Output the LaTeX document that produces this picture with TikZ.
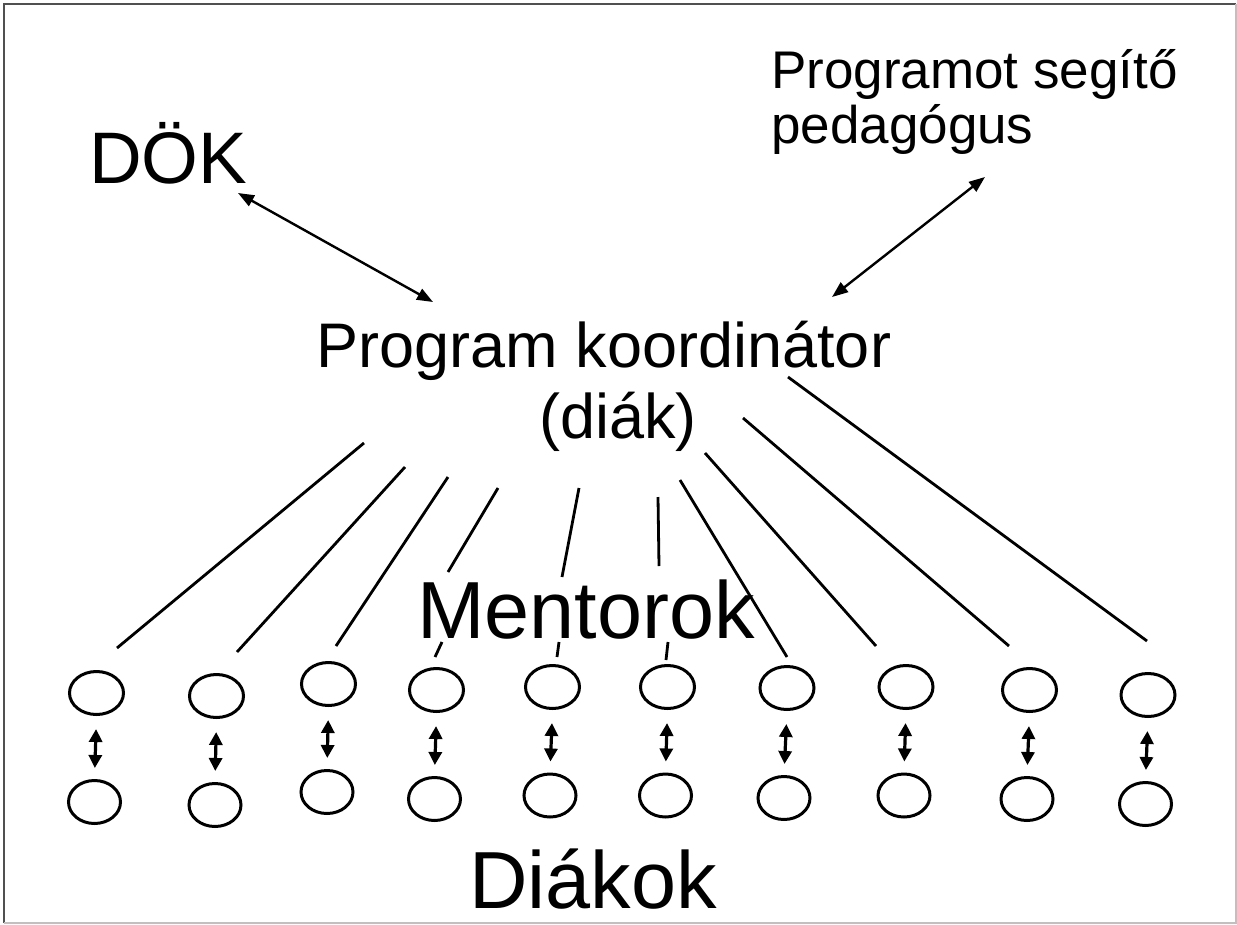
\documentclass[tikz,border=0pt]{standalone}
\usepackage{fontspec}
\setmainfont{Liberation Sans}
\usetikzlibrary{arrows.meta,shapes.geometric}
\definecolor{framedark}{HTML}{505050}
\definecolor{framelight}{HTML}{C0C0C0}
\begin{document}
\begin{tikzpicture}[x=1pt,y=-1pt,
  lbl/.style={inner sep=0pt},
  elltop/.style={draw, ellipse, line width=3pt, minimum width=54pt, minimum height=43pt, inner sep=0pt},
  ellbot/.style={draw, ellipse, line width=3pt, minimum width=52pt, minimum height=43pt, inner sep=0pt},
  conn/.style={line width=2.8pt},
  link/.style={line width=2.4pt, {Triangle[length=16pt,width=12pt]}-{Triangle[length=16pt,width=12pt]}},
  pair/.style={line width=3.2pt, {Triangle[length=13pt,width=13pt]}-{Triangle[length=13pt,width=13pt]}, shorten <=13pt, shorten >=11pt}]
\useasboundingbox (0,0) rectangle (1237,924);
\fill[white] (0,0) rectangle (1237,924);
% frame
\draw[framedark, line width=2pt] (4,923) -- (4,4) -- (1236,4);
\draw[framelight, line width=2pt] (4,923) -- (1236,923) -- (1236,4);

% texts
\node[lbl, font=\fontsize{73}{88}\selectfont, anchor=base west] (dok) at (89,183) {DÖK};
\node[lbl, font=\fontsize{53}{55}\selectfont, anchor=base west, align=left] (ped) at (771,143) {Programot segítő\\pedagógus};
\node[lbl, font=\fontsize{63}{71}\selectfont, anchor=base, align=center] (coord) at (604,438) {Program koordinátor\\\hspace*{28pt}(diák)};
\node[lbl, font=\fontsize{81}{97}\selectfont, anchor=base west] (ment) at (417,638) {Mentorok};
\node[lbl, font=\fontsize{81}{97}\selectfont, anchor=base west] (diak) at (469,908) {Diákok};

% arrows between labels
\coordinate (dokA) at (238,193);
\coordinate (dokB) at (433,302);
\coordinate (pedA) at (985,177);
\coordinate (pedB) at (832,297);
\draw[link] (dokA) -- (dokB);
\draw[link] (pedA) -- (pedB);

% mentor / student pairs
\foreach \i/\tx/\ty/\bx/\by in {1/96.5/693/94.5/802, 2/216.5/696/215/805, 3/328.5/684/327/792,
  4/436.5/690/434.5/799, 5/552.5/687/550/795.5, 6/667.5/687/665.5/795.5, 7/787/688/784/798,
  8/906/687/904/795.5, 9/1029.5/690/1027/799, 10/1148/695/1145.5/804} {
  \node[elltop] (t\i) at (\tx,\ty) {};
  \node[ellbot] (b\i) at (\bx,\by) {};
  \draw[pair] (t\i.south) -- (b\i.north);
}

% connectors from the coordinator
\coordinate (c1) at (364,443);  \coordinate (e1) at (117,648);
\coordinate (c2) at (405,467);  \coordinate (e2) at (237,652);
\coordinate (c3) at (448,477);  \coordinate (e3) at (336,646);
\coordinate (c4) at (498,488);  \coordinate (m4) at (448,572);
\coordinate (s4) at (442,642);  \coordinate (e4) at (435,657);
\coordinate (c5) at (579,488);  \coordinate (m5) at (562,577);
\coordinate (s5) at (559,642);  \coordinate (e5) at (557,657);
\coordinate (c6) at (658,497);  \coordinate (m6) at (659,566);
\coordinate (s6) at (668,642);  \coordinate (e6) at (666,660);
\coordinate (c7) at (680,480);  \coordinate (e7) at (787,657);
\coordinate (c8) at (705,453);  \coordinate (e8) at (876,646);
\coordinate (c9) at (743,418);  \coordinate (e9) at (1009,646);
\coordinate (c10) at (788,377); \coordinate (e10) at (1147,641);
\foreach \i in {1,2,3,7,8,9,10} {\draw[conn] (c\i) -- (e\i);}
\foreach \i in {4,5,6} {\draw[conn] (c\i) -- (m\i); \draw[conn] (s\i) -- (e\i);}
\end{tikzpicture}
\end{document}
